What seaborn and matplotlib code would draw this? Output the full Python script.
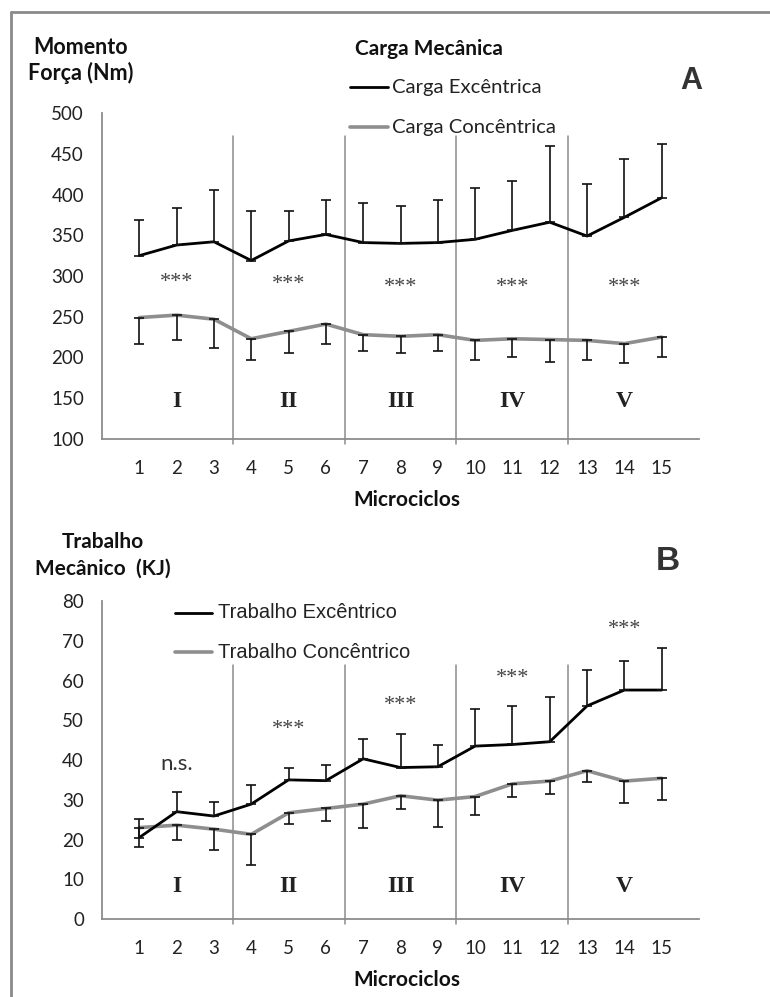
import numpy as np
import pandas as pd
import matplotlib
matplotlib.use("Agg")
import matplotlib.pyplot as plt
from matplotlib.lines import Line2D
import seaborn as sns

# ---------------- data ----------------
microciclos = list(range(1, 16))
tick_labels = [str(c) for c in microciclos]

# Momento de força (Nm): média e desvio-padrão
carga_exc = [325, 338, 342, 319, 343, 351, 341, 340, 341, 345, 356, 366, 349, 372, 396]
carga_exc_dp = [44, 46, 63, 61, 37, 42, 48, 46, 52, 63, 61, 94, 64, 71, 66]
carga_con = [249, 252, 247, 223, 232, 241, 228, 226, 228, 221, 223, 222, 221, 217, 225]
carga_con_dp = [32, 30.5, 35, 26, 26, 24, 20, 21, 20, 24, 23, 27, 24, 24, 25]

# Trabalho mecânico (KJ): média e desvio-padrão
trab_exc = [20.5, 27.0, 25.9, 28.9, 35.0, 34.8, 40.3, 38.1, 38.3, 43.5, 43.9, 44.6, 53.6, 57.6, 57.6]
trab_exc_dp = [4.6, 4.9, 3.6, 4.8, 2.9, 3.9, 4.9, 8.4, 5.5, 9.3, 9.7, 11.3, 9.0, 7.4, 10.6]
trab_con = [23.0, 23.6, 22.6, 21.3, 26.7, 27.8, 28.9, 31.0, 29.9, 30.8, 34.0, 34.7, 37.3, 34.7, 35.4]
trab_con_dp = [4.8, 3.6, 5.2, 7.7, 2.8, 3.1, 6.1, 3.3, 6.8, 4.7, 3.2, 3.3, 2.8, 5.6, 5.5]

# mesociclos e significância
mesociclos = ["I", "II", "III", "IV", "V"]
meso_centro = [2, 5, 8, 11, 14]
meso_limites = [3.5, 6.5, 9.5, 12.5]
sig_carga = ["***", "***", "***", "***", "***"]
sig_carga_y = [292, 290, 286, 286, 286]
sig_trab = ["n.s.", "***", "***", "***", "***"]
sig_trab_y = [39, 47.7, 53.6, 60.6, 72.9]

# ---------------- style ----------------
sns.set_theme(style="white")
plt.rcParams["font.family"] = ["Lato", "DejaVu Sans"]

W, H = 770, 997
fig = plt.figure(figsize=(W / 100, H / 100), dpi=100)
fig.patch.set_facecolor("white")


def fx(x):
    return x / W


def fy(y):
    return 1 - y / H


BLACK = "#000000"
GRAY = "#8e8e8e"
AXC = "#8c8c8c"
SERIF = ["Liberation Serif", "DejaVu Serif"]
ARIAL = ["Liberation Sans", "DejaVu Sans"]

# outer frame (top and left edges)
fig.add_artist(Line2D([fx(11), fx(W)], [fy(12), fy(12)], color="#8a8a8a", lw=2.0))
fig.add_artist(Line2D([fx(11), fx(11)], [fy(12), fy(H)], color="#8a8a8a", lw=2.0))


def build_panel(ax, exc, exc_dp, con, con_dp, ylim, ystep, sep_top,
                sig, sig_y, roman_y):
    df = pd.DataFrame({
        "Microciclo": microciclos * 2,
        "Valor": exc + con,
        "Serie": ["exc"] * 15 + ["con"] * 15,
    })
    sns.lineplot(data=df[df.Serie == "con"], x="Microciclo", y="Valor",
                 color=GRAY, lw=2.6, ax=ax, legend=False, errorbar=None)
    sns.lineplot(data=df[df.Serie == "exc"], x="Microciclo", y="Valor",
                 color=BLACK, lw=2.0, ax=ax, legend=False, errorbar=None)
    z = np.zeros(15)
    ax.errorbar(microciclos, exc, yerr=[z, exc_dp], fmt="none", ecolor="#111111",
                elinewidth=1.2, capsize=3.6, capthick=1.2, zorder=4)
    ax.errorbar(microciclos, con, yerr=[con_dp, z], fmt="none", ecolor="#111111",
                elinewidth=1.2, capsize=3.6, capthick=1.2, zorder=4)

    # separators between mesocycles
    for b in meso_limites:
        ax.plot([b, b], [ylim[0] - (ylim[1] - ylim[0]) * 0.015, sep_top],
                color=AXC, lw=1.1, clip_on=False, zorder=1)

    for xc, r in zip(meso_centro, mesociclos):
        ax.text(xc, roman_y, r, ha="center", va="center", fontsize=17,
                fontweight="bold", family=SERIF, color="#222222")
    for xc, s, yv in zip(meso_centro, sig, sig_y):
        if s == "***":
            ax.text(xc, yv, s, ha="center", va="center", fontsize=16,
                    family=SERIF, color="#444444")
        else:
            ax.text(xc, yv, s, ha="center", va="center", fontsize=16,
                    color="#333333")

    ax.set_xlim(0, 16)
    ax.set_ylim(*ylim)
    ax.set_xticks(range(0, 17))
    ax.set_xticklabels([""] + tick_labels + [""])
    ax.set_yticks(np.arange(ylim[0], ylim[1] + 0.1, ystep))
    ax.set_xlabel("")
    ax.set_ylabel("")
    for s in ["top", "right"]:
        ax.spines[s].set_visible(False)
    for s in ["left", "bottom"]:
        ax.spines[s].set_color(AXC)
        ax.spines[s].set_linewidth(1.3)
    ax.tick_params(axis="both", direction="out", length=4, width=1.1,
                   color=AXC, labelsize=13.5, labelcolor="#222222")
    ax.tick_params(axis="y", pad=9)
    ax.tick_params(axis="x", pad=11)
    ax.set_facecolor("white")


# ---------- panel A ----------
axA = fig.add_axes([fx(102), fy(439), fx(699) - fx(102), fy(113) - fy(439)])
build_panel(axA, carga_exc, carga_exc_dp, carga_con, carga_con_dp,
            (100, 500), 50, 472, sig_carga, sig_carga_y, 146)

fig.text(fx(81), fy(47), "Momento", ha="center", va="center",
         fontsize=15.5, fontweight="bold", color="#111111")
fig.text(fx(81), fy(73), "Força (Nm)", ha="center", va="center",
         fontsize=15.5, fontweight="bold", color="#111111")
fig.text(fx(407), fy(500), "Microciclos", ha="center", va="center",
         fontsize=15, fontweight="bold", color="#111111")
fig.text(fx(691), fy(81), "A", ha="center", va="center", fontsize=22,
         fontweight="bold", family=ARIAL, color="#333333")

fig.text(fx(355), fy(49), "Carga Mecânica", ha="left", va="center",
         fontsize=15, fontweight="bold", color="#111111")
fig.add_artist(Line2D([fx(350), fx(388)], [fy(87), fy(87)], color=BLACK, lw=2.0))
fig.text(fx(392), fy(87), "Carga Excêntrica", ha="left", va="center",
         fontsize=14.6, color="#222222")
fig.add_artist(Line2D([fx(350), fx(388)], [fy(127), fy(127)], color=GRAY, lw=2.6))
fig.text(fx(392), fy(127), "Carga Concêntrica", ha="left", va="center",
         fontsize=14.6, color="#222222")

# ---------- panel B ----------
axB = fig.add_axes([fx(102), fy(919), fx(699) - fx(102), fy(601) - fy(919)])
build_panel(axB, trab_exc, trab_exc_dp, trab_con, trab_con_dp,
            (0, 80), 10, 64, sig_trab, sig_trab_y, 8.1)

fig.text(fx(103), fy(542), "Trabalho", ha="center", va="center",
         fontsize=15, fontweight="bold", color="#111111")
fig.text(fx(103), fy(569), "Mecânico  (KJ)", ha="center", va="center",
         fontsize=15, fontweight="bold", color="#111111")
fig.text(fx(407), fy(980), "Microciclos", ha="center", va="center",
         fontsize=15, fontweight="bold", color="#111111")
fig.text(fx(668), fy(562), "B", ha="center", va="center", fontsize=24,
         fontweight="bold", family=ARIAL, color="#333333")

fig.add_artist(Line2D([fx(175), fx(212)], [fy(613), fy(613)], color=BLACK, lw=2.0))
fig.text(fx(218), fy(613), "Trabalho Excêntrico", ha="left", va="center",
         fontsize=14.5, family=ARIAL, color="#222222")
fig.add_artist(Line2D([fx(175), fx(212)], [fy(652), fy(652)], color=GRAY, lw=2.6))
fig.text(fx(218), fy(652), "Trabalho Concêntrico", ha="left", va="center",
         fontsize=14.5, family=ARIAL, color="#222222")

fig.savefig("out.png", dpi=100, facecolor="white")
